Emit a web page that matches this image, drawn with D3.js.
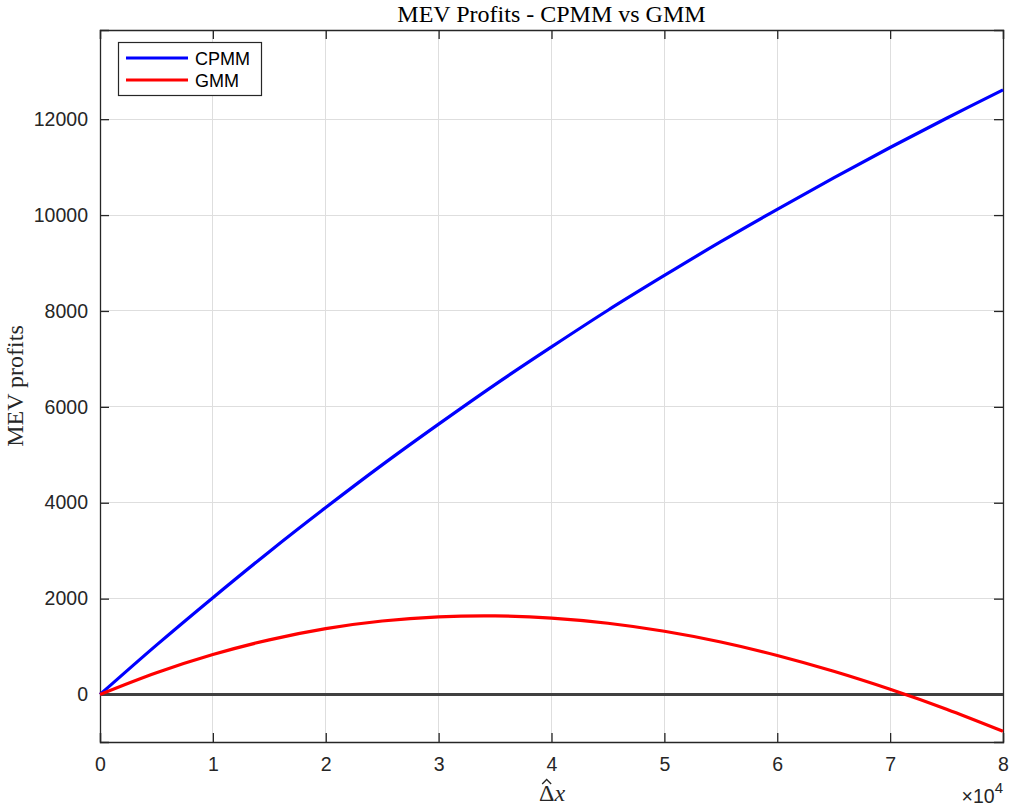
<!DOCTYPE html>
<html>
<head>
<meta charset="utf-8">
<script src="https://cdn.jsdelivr.net/npm/d3@7"></script>
<style>
  body { margin: 0; background: #fff; }
  svg { display: block; }
</style>
</head>
<body>
<svg id="chart" width="1011" height="807"></svg>
<script>
// ---- data (x in units of 1e4) ----
const xValues = [0, 0.5, 1, 1.5, 2, 2.5, 3, 3.5, 4, 4.5, 5, 5.5, 6, 6.5, 7, 7.5, 8];
const cpmmValues = [0, 1030, 2020, 2980, 3900, 4790, 5640, 6465, 7250, 8015, 8740, 9445, 10120, 10775, 11410, 12020, 12610];
const gmmValues = [0, 454, 834, 1141, 1375, 1533, 1620, 1640, 1595, 1487, 1320, 1096, 815, 485, 110, -305, -765];
const xTicks = [0, 1, 2, 3, 4, 5, 6, 7, 8];
const yTicks = [0, 2000, 4000, 6000, 8000, 10000, 12000];
const seriesNames = ["CPMM", "GMM"];
const seriesColors = ["#0000ff", "#ff0000"];

const svg = d3.select("#chart");
const L = 100, R = 1003, T = 30, B = 742;
const x = d3.scaleLinear().domain([0, 8]).range([L, R]);
const y = d3.scaleLinear().domain([-990, 13860]).range([B, T]);
const axisColor = "#262626";
const sans = "'Liberation Sans', Arial, Helvetica, sans-serif";
const serif = "'Liberation Serif', 'DejaVu Serif', serif";

// grid
const grid = svg.append("g");
grid.selectAll("line.vx").data(xTicks.slice(1, -1)).enter().append("line")
  .attr("x1", d => x(d)).attr("x2", d => x(d)).attr("y1", T).attr("y2", B)
  .attr("stroke", "#dedede").attr("stroke-width", 1).attr("shape-rendering", "crispEdges");
grid.selectAll("line.hy").data(yTicks).enter().append("line")
  .attr("x1", L).attr("x2", R).attr("y1", d => y(d)).attr("y2", d => y(d))
  .attr("stroke", "#dedede").attr("stroke-width", 1).attr("shape-rendering", "crispEdges");

// axes
const xAxis = d3.axisBottom(x).tickValues(xTicks).tickSize(-9).tickPadding(18).tickFormat(d3.format("d"));
const yAxis = d3.axisLeft(y).tickValues(yTicks).tickSize(-9).tickPadding(12).tickFormat(d3.format("d"));
const xTop = d3.axisTop(x).tickValues(xTicks).tickSize(-9).tickFormat("");
const yRight = d3.axisRight(y).tickValues(yTicks).tickSize(-9).tickFormat("");

function style(g) {
  g.select(".domain").attr("stroke", axisColor).attr("stroke-width", 1.3);
  g.selectAll(".tick line").attr("stroke", axisColor).attr("stroke-width", 1.3);
  g.selectAll(".tick text").attr("fill", axisColor).style("font-family", sans).style("font-size", "19.5px");
}
svg.append("g").attr("transform", `translate(0,${B})`).call(xAxis).call(style)
  .selectAll(".tick text").attr("dy", "0.55em");
svg.append("g").attr("transform", `translate(${L},0)`).call(yAxis).call(style);
svg.append("g").attr("transform", `translate(0,${T})`).call(xTop).call(style);
svg.append("g").attr("transform", `translate(${R},0)`).call(yRight).call(style);

// zero line
svg.append("line").attr("x1", L).attr("x2", R).attr("y1", y(0)).attr("y2", y(0))
  .attr("stroke", "#404040").attr("stroke-width", 3);

// series
const line = d3.line().x(d => x(d[0])).y(d => y(d[1])).curve(d3.curveCatmullRom.alpha(0.5));
[cpmmValues, gmmValues].forEach((vals, i) => {
  svg.append("path").datum(xValues.map((xv, j) => [xv, vals[j]]))
    .attr("d", line).attr("fill", "none").attr("stroke", seriesColors[i]).attr("stroke-width", 3.2);
});

// title
svg.append("text").attr("x", (L + R) / 2).attr("y", 22).attr("text-anchor", "middle")
  .style("font-family", serif).style("font-size", "24px").attr("fill", "#000")
  .text("MEV Profits - CPMM vs GMM");

// y label
svg.append("text").attr("transform", `translate(23,${(T + B) / 2}) rotate(-90)`)
  .attr("text-anchor", "middle").style("font-family", serif).style("font-size", "24px").attr("fill", axisColor)
  .text("MEV profits");

// x label: hat Delta x
const xl = svg.append("text").attr("x", 552).attr("y", 801).attr("text-anchor", "middle")
  .style("font-family", serif).style("font-size", "24px").attr("fill", axisColor);
xl.append("tspan").text("Δ");
xl.append("tspan").style("font-style", "italic").text("x");
// hat drawn as a small path over the Delta
const xlNode = xl.node();
const start = xlNode.getStartPositionOfChar(0).x;
const dw = xlNode.getSubStringLength(0, 1);
const cx = start + dw / 2;
svg.append("path")
  .attr("d", `M${cx - 4.5},${784} L${cx},${779.5} L${cx + 4.5},${784}`)
  .attr("fill", "none").attr("stroke", axisColor).attr("stroke-width", 1.3);

// exponent
const ex = svg.append("text").attr("x", 1003).attr("y", 803).attr("text-anchor", "end")
  .style("font-family", sans).style("font-size", "19.5px").attr("fill", axisColor);
ex.append("tspan").text("×10");
ex.append("tspan").attr("dy", -10).style("font-size", "15px").text("4");

// legend
const lg = svg.append("g");
lg.append("rect").attr("x", 118.5).attr("y", 42.5).attr("width", 143).attr("height", 53)
  .attr("fill", "#fff").attr("stroke", axisColor).attr("stroke-width", 1.2);
seriesNames.forEach((name, i) => {
  const yy = 58 + i * 22;
  lg.append("line").attr("x1", 126).attr("x2", 188).attr("y1", yy).attr("y2", yy)
    .attr("stroke", seriesColors[i]).attr("stroke-width", 3.2);
  lg.append("text").attr("x", 195).attr("y", yy + 6.5).style("font-family", sans).style("font-size", "18px")
    .attr("fill", "#000").text(name);
});
</script>
</body>
</html>
